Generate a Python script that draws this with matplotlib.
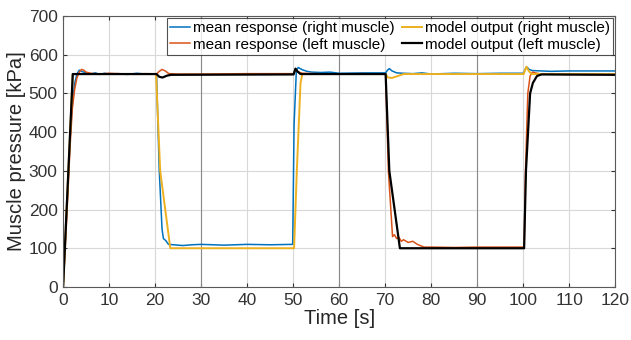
import numpy as np
import matplotlib.pyplot as plt

plt.rcParams['font.family'] = ['Liberation Sans', 'DejaVu Sans']

# mean response, right muscle
t_mean_right = [0, 0.5, 1, 1.5, 2, 2.5, 3, 3.5, 4, 5, 6, 7, 8, 9, 10, 12, 14, 16, 18, 20.3,
                20.9, 21.5, 21.8, 22.3, 22.9, 24, 26, 28, 30, 35, 40, 45, 49.9, 50.2, 50.7, 51.1,
                52, 53, 54, 56, 58, 60, 65, 70.1, 70.5, 70.9, 71.5, 72.5, 74, 76, 78, 80, 85, 90,
                95, 100.1, 100.4, 100.8, 101.3, 102, 104, 106, 110, 115, 120]
v_mean_right = [0, 125, 250, 380, 470, 525, 550, 560, 557, 553, 550, 553, 549, 552, 550, 551, 549,
                552, 550, 550, 300, 150, 125, 120, 110, 109, 107, 109, 110, 108, 110, 109, 110, 420,
                560, 567, 561, 557, 555, 554, 555, 552, 553, 553, 560, 564, 558, 553, 552, 551, 553,
                550, 552, 551, 552, 552, 562, 568, 562, 559, 558, 557, 558, 558, 558]

# mean response, left muscle
t_mean_left = [0, 0.5, 1, 1.5, 2, 2.5, 3, 3.5, 4, 4.5, 5, 6, 8, 10, 14, 18, 20.3, 20.8, 21.5, 22.2,
               23, 25, 30, 40, 50.1, 50.5, 51, 52, 55, 60, 65, 70.1, 70.7, 71.6, 72, 72.5, 73, 73.5,
               74, 75, 76, 77, 78, 78.5, 80, 85, 90, 95, 100.2, 100.5, 101, 101.5, 102, 103, 104,
               110, 120]
v_mean_left = [0, 110, 230, 360, 460, 510, 540, 555, 562, 560, 555, 552, 550, 552, 550, 551, 550,
               556, 562, 558, 551, 550, 550, 551, 551, 562, 556, 552, 551, 550, 551, 550, 300, 130,
               135, 125, 128, 118, 122, 115, 118, 110, 105, 103, 103, 102, 103, 103, 103, 300, 500,
               545, 555, 552, 550, 549, 549]

# model output, right muscle
t_model_right = [0, 2.1, 20.2, 21.1, 23.3, 50.2, 50.8, 51.6, 52, 70.1, 70.6, 71.5, 72.5, 74, 100.1,
                 100.4, 100.7, 101.2, 101.8, 120]
v_model_right = [0, 550, 550, 300, 100, 100, 300, 527, 550, 550, 541, 540, 544, 550, 550, 560, 569,
                 558, 550, 550]

# model output, left muscle
t_model_left = [0, 2.1, 20.3, 20.9, 21.6, 22.6, 23.5, 50.1, 50.5, 51, 51.6, 70.1, 70.9, 73.2,
                100.2, 100.6, 101.5, 102.1, 103, 104, 120]
v_model_left = [0, 550, 550, 543, 541, 546, 548, 549, 564, 556, 550, 550, 300, 100, 100, 300, 500,
                527, 545, 549, 548]

x_ticks = list(range(0, 121, 10))
y_ticks = list(range(0, 701, 100))

fig = plt.figure(figsize=(6.31, 3.4), dpi=100)
ax = fig.add_axes([0.1, 0.156, 0.875, 0.797])

ax.plot(t_mean_right, v_mean_right, color='#0072BD', lw=1.1, label='mean response (right muscle)')
ax.plot(t_mean_left, v_mean_left, color='#D95319', lw=1.1, label='mean response (left muscle)')
ax.plot(t_model_right, v_model_right, color='#EDB120', lw=1.4, label='model output (right muscle)')
ax.plot(t_model_left, v_model_left, color='black', lw=1.6, label='model output (left muscle)')

ax.set_xlim(0, 120)
ax.set_ylim(0, 700)
ax.set_xticks(x_ticks)
ax.set_yticks(y_ticks)
ax.grid(True, color='#d8d8d8', lw=0.8, zorder=0.5)
ax.set_axisbelow(True)
# every third vertical grid line comes out darker in the original
for xv in x_ticks[3:-1:3]:
    ax.axvline(xv, color='#8a8a8a', lw=0.8, zorder=1)

ax.tick_params(direction='in', length=3, labelsize=12.5, colors='#333333', pad=4,
               top=True, right=True)
for s in ax.spines.values():
    s.set_color('#5a5a5a')
    s.set_linewidth(0.8)

ax.set_xlabel('Time [s]', fontsize=14.5, color='#262626', labelpad=1)
ax.set_ylabel('Muscle pressure [kPa]', fontsize=14.5, color='#262626', labelpad=2)

leg = ax.legend(ncol=2, loc='upper right', fontsize=11, frameon=True, fancybox=False,
                handlelength=1.3, handletextpad=0.2, columnspacing=0.5, borderpad=0.2,
                labelspacing=0.15, borderaxespad=0.15)
leg.get_frame().set_edgecolor('#262626')
leg.get_frame().set_linewidth(0.8)
leg.set_zorder(5)

fig.savefig('out.png', dpi=100)
